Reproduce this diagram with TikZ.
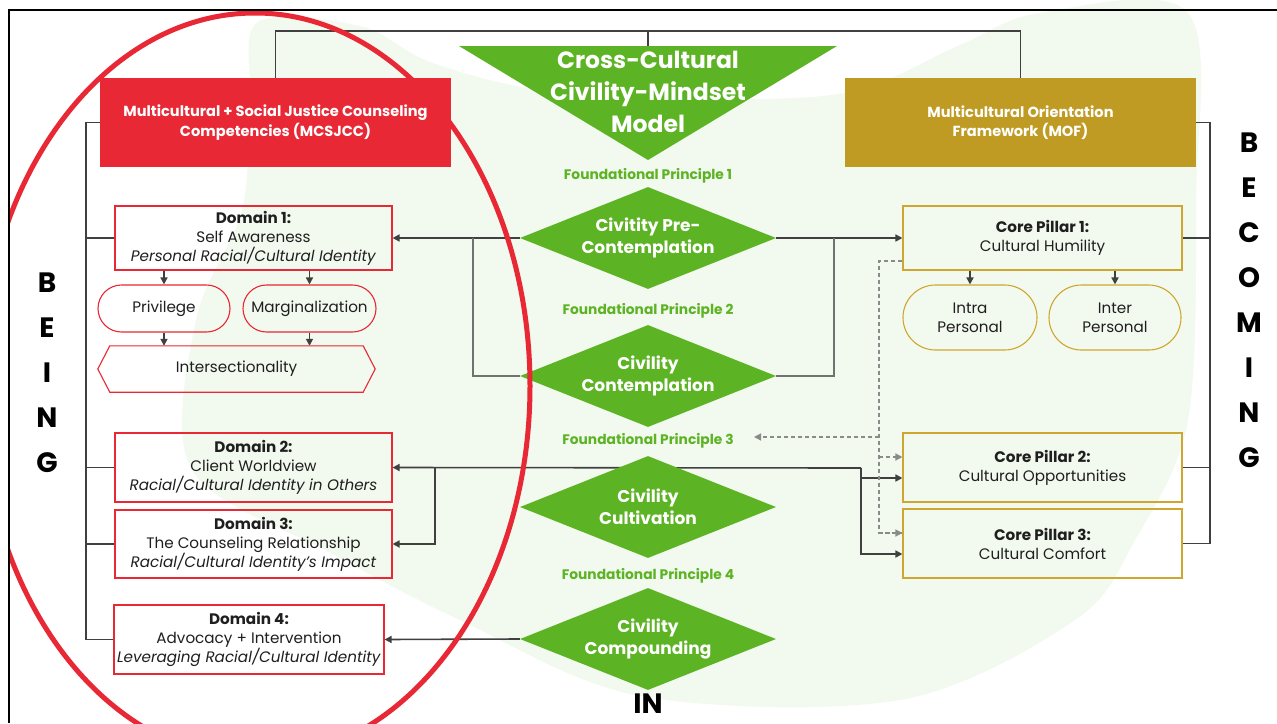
\documentclass[tikz,border=0pt]{standalone}
\usepackage{fontspec}
\setmainfont{Poppins}
\usetikzlibrary{arrows.meta,shapes.geometric,calc}

\definecolor{cred}{HTML}{E82834}
\definecolor{cgold}{HTML}{BF9B23}
\definecolor{cgoldline}{HTML}{CFA730}
\definecolor{cgreen}{HTML}{5CB323}
\definecolor{cwash}{HTML}{F2F9EE}
\definecolor{cline}{HTML}{404040}
\definecolor{cline2}{HTML}{6F736F}
\definecolor{cdash}{HTML}{8A8A8A}
\definecolor{ctext}{HTML}{1F1F1F}

\newcommand\setfs[2]{\fontsize{#1}{#2}\selectfont}

\pgfdeclarelayer{wash}
\pgfdeclarelayer{wires}
\pgfsetlayers{wash,wires,main}

\tikzset{
  headbox/.style={minimum width=351, minimum height=89, inner sep=0, text=white,
    font=\bfseries\setfs{14.6}{19.5}, align=center},
  domainbox/.style={draw=cred, line width=1.1, minimum width=277, inner sep=0,
    text=ctext, font=\setfs{15.2}{19}, align=center},
  pillarbox/.style={draw=cgoldline, line width=1.1, minimum width=279, inner sep=0,
    text=ctext, font=\setfs{15.2}{19}, align=center},
  redpill/.style={draw=cred, line width=1.1, minimum height=47, rounded corners=23.5,
    inner sep=0, text=ctext, font=\setfs{15.2}{19}},
  goldpill/.style={draw=cgoldline, line width=1.1, minimum height=65, rounded corners=32.5,
    inner sep=0, text=ctext, font=\setfs{15.2}{19}, align=center},
  civ/.style={diamond, aspect=2.5, fill=cgreen, text=white, minimum width=256,
    minimum height=102, inner sep=0, font=\bfseries\setfs{17}{21.5}, align=center},
  fplabel/.style={text=cgreen, font=\bfseries\setfs{13.8}{15}, inner sep=0},
  wire/.style={draw=cline, line width=1.6},
  wiregray/.style={draw=cline2, line width=1.6},
  arr/.style={wire, -{Triangle[length=7pt,width=7pt]}},
  dasharr/.style={draw=cdash, line width=1.3, dash pattern=on 4pt off 3pt},
  stackletters/.style={font=\bfseries\setfs{28}{45}, align=center, text=black, inner sep=0},
}

\begin{document}
\begin{tikzpicture}[x=1pt,y=-1pt]
\useasboundingbox (0,0) rectangle (1277,723);

% paper and pale brush-stroke wash behind the chart
\begin{pgfonlayer}{wash}
\fill[white] (0,0) rectangle (1277,723);
\fill[cwash] plot[smooth cycle, tension=0.55] coordinates {
  (258,22) (360,26) (430,62) (540,90) (700,99) (850,92) (960,45) (1040,13) (1188,13)
  (1196,200) (1188,420) (1135,540) (1075,620) (900,700) (640,696) (460,620)
  (335,555) (192,470) (196,320) (242,210) (250,100)};
\end{pgfonlayer}

% title triangle
\coordinate (tritop) at (648,46);
\fill[cgreen] (459,46) -- (837,46) -- (648,160) -- cycle;
\node[text=white, font=\bfseries\setfs{23.5}{32}, align=center, inner sep=0] (title) at (648,92)
  {Cross-Cultural\\Civility-Mindset\\Model};

% framework headers
\node[headbox, fill=cred] (mcs) at (275.5,122.5)
  {Multicultural + Social Justice Counseling\\Competencies (MCSJCC)};
\node[headbox, fill=cgold] (mof) at (1020.5,122.5)
  {Multicultural Orientation\\Framework (MOF)};

% MCSJCC domains
\node[domainbox, minimum height=64] (dom1) at (253.5,238)
  {\textbf{Domain 1:}\\Self Awareness\\\textit{Personal Racial/Cultural Identity}};
\node[redpill, minimum width=132] (priv) at (164,308.5) {Privilege};
\node[redpill, minimum width=133] (marg) at (309.5,308.5) {Marginalization};
\node[minimum width=253, minimum height=46, inner sep=0, text=ctext, font=\setfs{15.2}{19}]
  (inter) at (236.5,369) {Intersectionality};
\draw[cred, line width=1.1] (inter.north west) -- (inter.north east) -- ($(inter.east)+(12,0)$)
  -- (inter.south east) -- (inter.south west) -- ($(inter.west)+(-12,0)$) -- cycle;
\node[domainbox, minimum height=69] (dom2) at (253.5,467.5)
  {\textbf{Domain 2:}\\Client Worldview\\\textit{Racial/Cultural Identity in Others}};
\node[domainbox, minimum height=68] (dom3) at (253.5,544)
  {\textbf{Domain 3:}\\The Counseling Relationship\\\textit{Racial/Cultural Identity's Impact}};
\node[domainbox, minimum height=69, minimum width=270] (dom4) at (249,639.5)
  {\textbf{Domain 4:}\\Advocacy + Intervention\\\textit{Leveraging Racial/Cultural Identity}};

% MOF pillars
\node[pillarbox, minimum height=64] (cp1) at (1042.5,238)
  {\textbf{Core Pillar 1:}\\Cultural Humility};
\node[goldpill, minimum width=134] (intra) at (970,317.5) {Intra\\Personal};
\node[goldpill, minimum width=132] (interp) at (1115,317.5) {Inter\\Personal};
\node[pillarbox, minimum height=69] (cp2) at (1042.5,467.5)
  {\textbf{Core Pillar 2:}\\Cultural Opportunities};
\node[pillarbox, minimum height=69] (cp3) at (1042.5,543.5)
  {\textbf{Core Pillar 3:}\\Cultural Comfort};

% foundational principles
\node[fplabel] (fp1) at (648,176) {Foundational Principle 1};
\node[civ] (fp1d) at (648,238) {Civitity Pre-\\Contemplation};
\node[fplabel] (fp2) at (648,311) {Foundational Principle 2};
\node[civ] (fp2d) at (648,376) {Civility\\Contemplation};
\node[fplabel] (fp3) at (648,441) {Foundational Principle 3};
\node[civ] (fp3d) at (648,507) {Civility\\Cultivation};
\node[fplabel] (fp4) at (648,576) {Foundational Principle 4};
\node[civ] (fp4d) at (648,639) {Civility\\Compounding};

\node[font=\bfseries\setfs{28}{28}, inner sep=0] (in) at (648,704) {IN};
\node[stackletters] (being) at (47,372.5) {B\\E\\I\\N\\G};
\node[stackletters] (becoming) at (1249,300) {B\\E\\C\\O\\M\\I\\N\\G};

% connectors
\coordinate (lspine) at (86,122.5);
\coordinate (rspine) at (1210,122.5);
\coordinate (j1) at (473,238);
\coordinate (j2) at (834,238);
\coordinate (j3) at (861,468);
\coordinate (j4) at (435,468);
\coordinate (dtop) at (879,261);
\coordinate (fp3tip) at (754,437);

\begin{pgfonlayer}{wires}
% top bracket
\draw[wire] (mcs.north) -- ++(0,-47) -| (mof.north);
\draw[wire] (tritop) -- ++(0,-15);
% left spine
\draw[wire] (mcs.west) -- (lspine) |- (dom4.west);
\foreach \n in {dom1,dom2,dom3} \draw[wire] (\n.west) -- (\n.west -| lspine);
% right spine
\draw[wire] (mof.east) -- (rspine) |- (cp3.east);
\foreach \n in {cp1,cp2} \draw[wire] (\n.east) -- (\n.east -| rspine);
% domain 1 sub-items
\draw[arr] (priv.north |- dom1.south) -- (priv.north);
\draw[arr] (marg.north |- dom1.south) -- (marg.north);
\draw[arr] (priv.south) -- (priv.south |- inter.north);
\draw[arr] (marg.south) -- (marg.south |- inter.north);
% pillar 1 sub-items
\draw[arr] (intra.north |- cp1.south) -- (intra.north);
\draw[arr] (interp.north |- cp1.south) -- (interp.north);
% principle links
\draw[arr] (fp1d.west) -- (dom1.east);
\draw[arr] (fp1d.east) -- (cp1.west);
\draw[wiregray] (fp2d.west) -| (j1);
\draw[wiregray] (fp2d.east) -| (j2);
\draw[arr] (j3) -- (dom2.east);
\draw[arr] (j4) |- (dom3.east);
\draw[arr] (j3) |- ($(cp3.west)+(0,10.5)$);
\draw[arr] (j3 |- cp2.west) ++(0,10.5) -- ($(cp2.west)+(0,10.5)$);
\draw[arr] (fp4d.west) -- (dom4.east);
% dashed feedback from pillar 1
\draw[dasharr] ($(cp1.west)+(0,23)$) -- (dtop) |- ($(cp3.west)+(0,-10.5)$);
\draw[dasharr, -{Triangle[length=7pt,width=7pt]}] (dtop |- cp3.west) ++(0,-10.5) -- ($(cp3.west)+(0,-10.5)$);
\draw[dasharr, -{Triangle[length=7pt,width=7pt]}] (dtop |- cp2.west) ++(0,-10.5) -- ($(cp2.west)+(0,-10.5)$);
\draw[dasharr, -{Triangle[length=7pt,width=7pt]}] (dtop |- fp3tip) -- (fp3tip);
\end{pgfonlayer}

% red ring around the BEING side
\begin{scope}
\clip (9,10) rectangle (1277,723);
\draw[cred, line width=5] (255,386) ellipse [x radius=275, y radius=373];
\end{scope}

% outer frame
\draw[black, line width=2.5] (9,723) -- (9,10) -- (1277,10);
\end{tikzpicture}
\end{document}
